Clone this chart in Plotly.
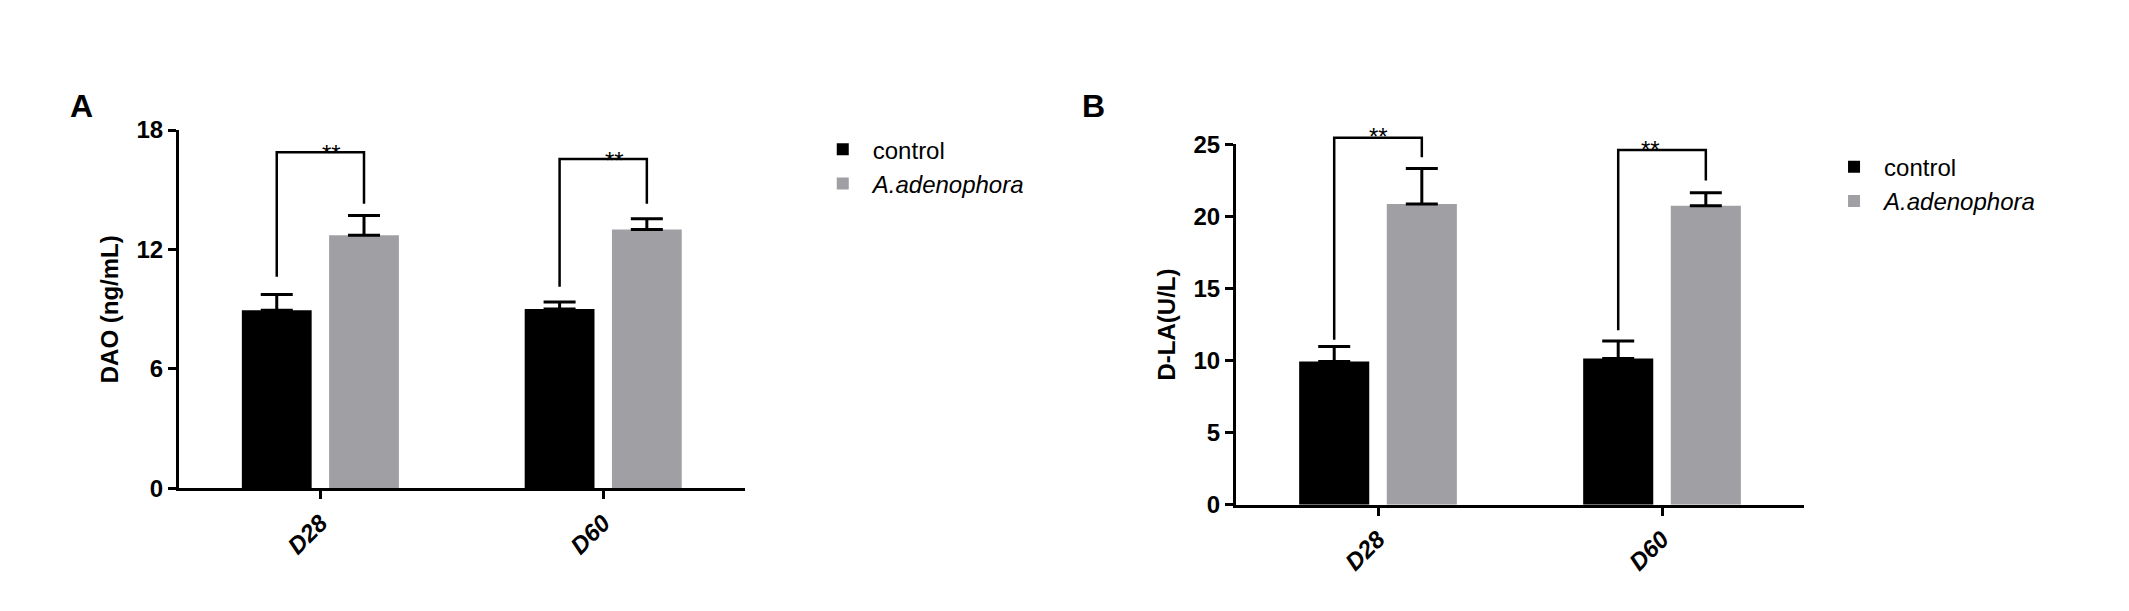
import plotly.graph_objects as go

groups = ["D28", "D60"]
series = ["control", "A.adenophora"]
colors = ["#000000", "#a09fa4"]

dao_mean = [[8.95, 9.01], [12.72, 13.0]]
dao_err = [[0.79, 0.35], [0.99, 0.54]]
dla_mean = [[9.94, 10.15], [20.87, 20.74]]
dla_err = [[1.04, 1.21], [2.45, 0.90]]

# bracket: (group, y of bar, left leg bottom, right leg bottom, star y)
dao_brackets = [(0, 16.88, 10.63, 14.3, 17.6), (1, 16.55, 10.13, 14.3, 17.25)]
dla_brackets = [(0, 25.46, 11.44, 24.1, 26.6), (1, 24.6, 12.1, 22.5, 25.7)]

BARGAP, GROUPGAP = 0.383, 0.2
half = (1 - BARGAP) / 4  # offset of bar centre from group centre

xdom = {1: [0.0803, 0.346], 2: [0.5768, 0.8436]}
ydom = {1: [0.2013, 0.815], 2: [0.1735, 0.7905]}
ymax = {1: 18, 2: 25}

fig = go.Figure()
font = "Liberation Sans"

def px(ax, v):  # data x (range -0.5..1.5) -> paper
    d = xdom[ax]
    return d[0] + (v + 0.5) / 2 * (d[1] - d[0])

def py(ax, v):
    d = ydom[ax]
    return d[0] + v / ymax[ax] * (d[1] - d[0])

def panel(means, errs, brackets, ax, leg):
    xa = "x" if ax == 1 else f"x{ax}"
    ya = "y" if ax == 1 else f"y{ax}"
    for s, name in enumerate(series):
        fig.add_trace(go.Bar(
            x=[0, 1], y=means[s], name=name, marker_color=colors[s],
            marker_line_width=0, xaxis=xa, yaxis=ya, legend=leg,
            error_y=dict(type="data", array=errs[s], arrayminus=[0, 0],
                         symmetric=False, color="black", thickness=3, width=16),
        ))
    for g, top, l, r, sy in brackets:
        x0, x1 = px(ax, g - half), px(ax, g + half)
        fig.add_shape(type="path", xref="paper", yref="paper",
                      path=f"M {x0} {py(ax, l)} L {x0} {py(ax, top)} L {x1} {py(ax, top)} L {x1} {py(ax, r)}",
                      line=dict(color="black", width=2.5))
        fig.add_annotation(x=px(ax, g), y=py(ax, sy), xref="paper", yref="paper", text="**",
                           showarrow=False, font=dict(family=font, size=24, color="black"))

panel(dao_mean, dao_err, dao_brackets, 1, "legend")
panel(dla_mean, dla_err, dla_brackets, 2, "legend2")

tf = dict(family=font, size=24, color="black", weight="bold")
axis_common = dict(showline=True, linecolor="black", linewidth=3, ticks="outside",
                   tickwidth=3, ticklen=8, tickcolor="black", showgrid=False, zeroline=False,
                   tickfont=tf)
xcommon = dict(axis_common, range=[-0.5, 1.5], tickvals=[0, 1], ticktext=groups, tickangle=-45,
               tickfont=dict(tf, style="italic"))

legend_common = dict(font=dict(family=font, size=24, color="black"), bgcolor="rgba(0,0,0,0)",
                     itemwidth=50, tracegroupgap=14, xanchor="left", yanchor="top")

fig.update_layout(
    width=2129, height=611, plot_bgcolor="white", paper_bgcolor="white",
    margin=dict(l=0, r=0, t=0, b=0), barmode="group",
    bargap=BARGAP, bargroupgap=GROUPGAP,
    xaxis=dict(xcommon, domain=xdom[1], anchor="y"),
    yaxis=dict(axis_common, domain=ydom[1], range=[0, 18], tickvals=[0, 6, 12, 18],
               anchor="x", title=dict(text="DAO (ng/mL)", standoff=12,
                                      font=dict(family=font, size=24, color="black", weight="bold"))),
    xaxis2=dict(xcommon, domain=xdom[2], anchor="y2"),
    yaxis2=dict(axis_common, domain=ydom[2], range=[0, 25], tickvals=[0, 5, 10, 15, 20, 25],
                anchor="x2", title=dict(text="D-LA(U/L)", standoff=12,
                                        font=dict(family=font, size=24, color="black", weight="bold"))),
    legend=dict(legend_common, x=0.378, y=0.82),
    legend2=dict(legend_common, x=0.853, y=0.79),
    showlegend=True,
)
fig.for_each_trace(lambda t: t.update(name="<i>A.adenophora</i>") if t.name == "A.adenophora" else None)
fig.add_annotation(x=0.028, y=0.89, xref="paper", yref="paper", text="<b>A</b>", showarrow=False,
                   font=dict(family=font, size=32, color="black"))
fig.add_annotation(x=0.51, y=0.89, xref="paper", yref="paper", text="<b>B</b>", showarrow=False,
                   font=dict(family=font, size=32, color="black"))

fig.write_html("out.html")
